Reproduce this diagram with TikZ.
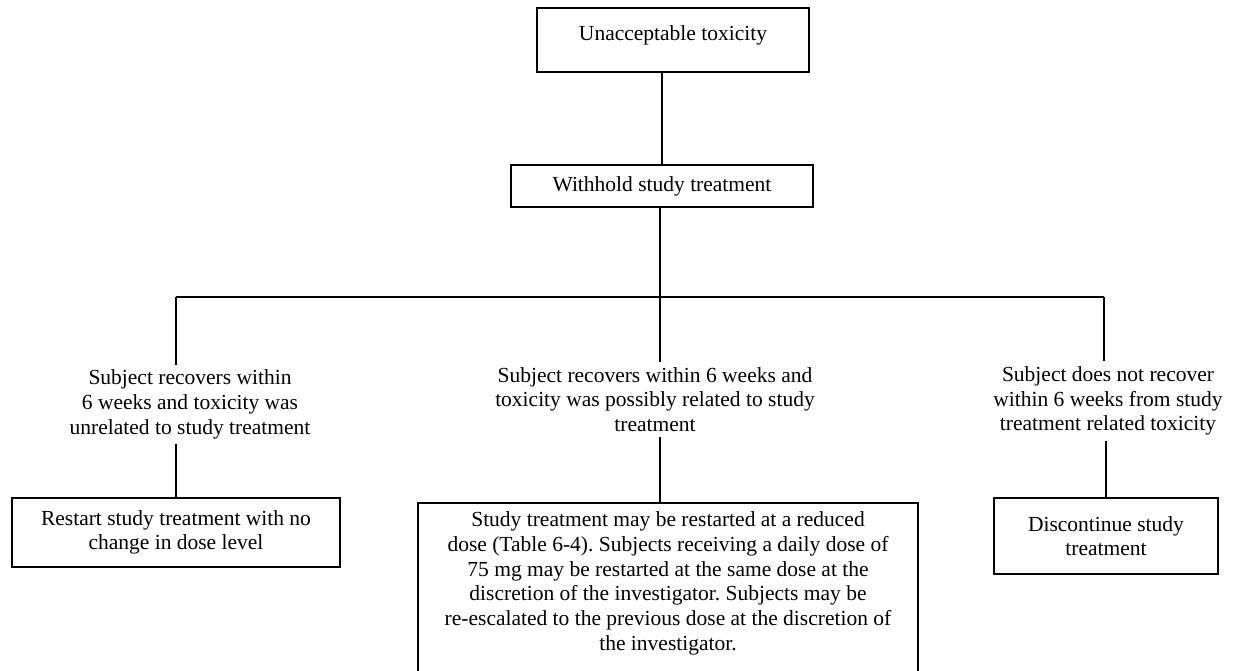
\documentclass[tikz,border=0pt]{standalone}
\usepackage{fontspec}
\setmainfont{Liberation Serif}
\begin{document}
\frenchspacing
\begin{tikzpicture}[x=1pt,y=-1pt,
  every node/.style={font=\fontsize{21.5}{24.7}\selectfont, text=black},
  box/.style={draw=black, line width=1.5pt, inner sep=0pt, align=center},
  lbl/.style={inner sep=5pt, align=center},
  conn/.style={draw=black, line width=1.6pt}]
\useasboundingbox (0,0) rectangle (1240,670);
% boxes
\node[box, minimum width=272pt, minimum height=64pt, text height=15pt, text depth=15pt] (top) at (673,40) {Unacceptable toxicity};
\node[box, minimum width=302pt, minimum height=42pt] (wh) at (662,186) {Withhold study treatment};
% condition texts
\node[lbl] (t1) at (190,404.5) {Subject recovers within\\6 weeks and toxicity was\\unrelated to study treatment};
\node[lbl] (t2) at (655,399.5) {Subject recovers within 6 weeks and\\toxicity was possibly related to study\\treatment};
\node[lbl] (t3) at (1108,401) {Subject does not recover\\within 6 weeks from study\\treatment related toxicity};
% outcome boxes
\node[box, minimum width=328pt, minimum height=69pt] (lb) at (176,532.5) {Restart study treatment with no\\change in dose level};
\node[box, anchor=north, minimum width=500pt, inner ysep=9pt, text depth=41pt] (mb) at (668,502) {Study treatment may be restarted at a reduced\\dose (Table 6-4). Subjects receiving a daily dose of\\75 mg may be restarted at the same dose at the\\discretion of the investigator. Subjects may be\\re-escalated to the previous dose at the discretion of\\the investigator.};
\node[box, minimum width=224pt, minimum height=76pt] (rb) at (1106,536) {Discontinue study\\treatment};
% junctions
\coordinate (j) at (660,297);
\coordinate (jl) at (176,297);
\coordinate (jr) at (1104,297);
% connectors
\draw[conn] (wh.north |- top.south) -- (wh.north);
\draw[conn] (j |- wh.south) -- (j |- t2.north);
\draw[conn] (jl) -- (jr);
\draw[conn] (jl) -- (jl |- t1.north);
\draw[conn] (jr) -- (jr |- t3.north);
\draw[conn] (lb.north |- t1.south) -- (lb.north);
\draw[conn] (j |- t2.south) -- (j |- mb.north);
\draw[conn] (rb.north |- t3.south) -- (rb.north);
\end{tikzpicture}
\end{document}
